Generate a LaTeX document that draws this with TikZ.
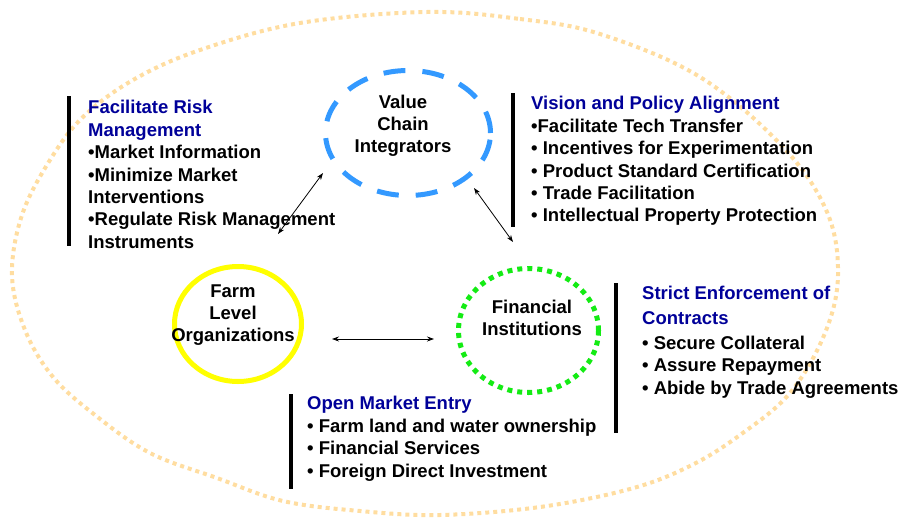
\documentclass[tikz,border=0pt]{standalone}
\usepackage{fontspec}
\setmainfont{Liberation Sans}
\usetikzlibrary{shapes.geometric,arrows.meta}
\definecolor{ttl}{RGB}{0,0,153}
\definecolor{outerring}{RGB}{255,221,160}
\definecolor{vcblue}{RGB}{51,153,255}
\definecolor{farmyellow}{RGB}{255,255,0}
\definecolor{fingreen}{RGB}{20,235,20}
\begin{document}
\begin{tikzpicture}[x=1pt,y=-1pt,
  bar/.style={line width=4.5pt,black},
  blk/.style={anchor=north west, inner sep=0pt, align=left, font=\fontsize{18.5}{22.4}\selectfont\bfseries},
  ctxt/.style={anchor=north, inner sep=0pt, align=center, font=\fontsize{18.5}{22}\selectfont\bfseries},
  link/.style={line width=0.8pt, {Stealth[length=7pt,width=5pt]}-{Stealth[length=7pt,width=5pt]}},
  ring/.style={ellipse, inner sep=0pt, draw}
]
\useasboundingbox (0,0) rectangle (901,519);
% outer dotted loop
\draw[outerring, line width=4pt, dash pattern=on 4pt off 4pt]
  plot[smooth cycle, tension=0.6] coordinates {
  (427,12) (520,19) (600,34) (700,77) (783,147) (827,212) (838,275)
  (825,333) (790,393) (740,435) (690,466) (630,489) (540,507) (440,515)
  (360,511) (283,501) (217,478) (150,453) (95,415) (53,377) (25,330)
  (12,275) (22,215) (50,160) (83,117) (133,80) (200,50) (300,23)};

% rings
\node[ring, vcblue, line width=5pt, dash pattern=on 22pt off 17pt, minimum width=165pt, minimum height=125pt] (vci) at (408,133) {};
\node[ring, farmyellow, line width=5pt, minimum width=127pt, minimum height=115pt] (flo) at (238,324) {};
\node[ring, fingreen, line width=5pt, dash pattern=on 5pt off 5pt, minimum width=140pt, minimum height=124pt] (fin) at (528.5,330.5) {};

% ring texts
\node[ctxt] (vcit) at (403,95.3) {Value\\Chain\\Integrators};
\node[ctxt] (flot) at (233,284.3) {Farm\\Level\\Organizations};
\node[ctxt] (fint) at (532,300.3) {Financial\\Institutions};

% connectors
\coordinate (l1) at (278,234);
\coordinate (l2) at (323,173);
\coordinate (r1) at (474,188);
\coordinate (r2) at (513,242);
\coordinate (m1) at (332,339);
\coordinate (m2) at (434,339);
\draw[link] (l1) -- (l2);
\draw[link] (r1) -- (r2);
\draw[link] (m1) -- (m2);

% bars
\draw[bar] (69,96) -- (69,246);
\draw[bar] (513,93) -- (513,227);
\draw[bar] (616,283) -- (616,433);
\draw[bar] (291,394) -- (291,489);

% text blocks
\node[blk] (risk) at (88,100.3) {{\color{ttl}Facilitate Risk}\\{\color{ttl}Management}\\•Market Information\\•Minimize Market\\Interventions\\•Regulate Risk Management\\Instruments};
\node[blk] (vision) at (531,96.3) {{\color{ttl}Vision and Policy Alignment}\\•Facilitate Tech Transfer\\• Incentives for Experimentation\\• Product Standard Certification\\• Trade Facilitation\\• Intellectual Property Protection};
\node[blk] (strict) at (642,286.3) {{\color{ttl}Strict Enforcement of}\\[2.5pt]{\color{ttl}Contracts}\\[2pt]• Secure Collateral\\• Assure Repayment\\• Abide by Trade Agreements};
\node[blk] (open) at (307,396.3) {{\color{ttl}Open Market Entry}\\• Farm land and water ownership\\• Financial Services\\• Foreign Direct Investment};
\end{tikzpicture}
\end{document}
